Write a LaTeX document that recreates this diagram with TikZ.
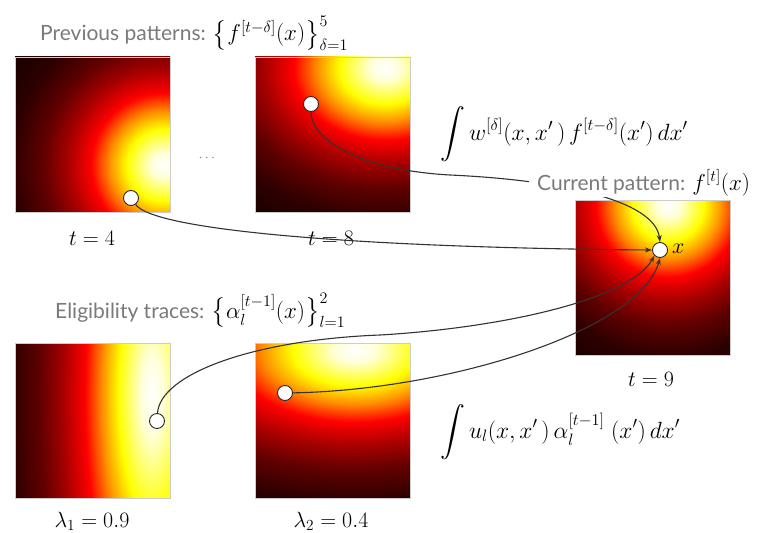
\RequirePackage{fix-cm}
\documentclass[tikz,border=0pt]{standalone}
\usepackage{amsmath}
\usepackage{fontspec}
\newfontfamily\labelfont{Lato}
\usetikzlibrary{arrows.meta}
\definecolor{hotdark}{rgb}{0.1,0,0}
\definecolor{lblgrey}{rgb}{0.48,0.48,0.48}
\pgfdeclareradialshading{hotmap}{\pgfpoint{0bp}{0bp}}{rgb(0bp)=(1,1,1); rgb(2bp)=(1,1,0.85); rgb(6bp)=(1,1,0); rgb(9bp)=(1,0.55,0); rgb(12bp)=(1,0,0); rgb(16bp)=(0.65,0,0); rgb(20bp)=(0.38,0,0); rgb(25bp)=(0.18,0,0); rgb(30bp)=(0.1,0,0); rgb(50bp)=(0.1,0,0)}
\newcommand\heatmap[6]{%
  \begin{scope}
    \clip (#1,#2) rectangle ++(155,155);
    \fill[hotdark] (#1,#2) rectangle ++(155,155);
    \shade[shading=hotmap] ({#3-#5},{#4-#6}) rectangle ({#3+#5},{#4+#6});
  \end{scope}
  \draw[black!20, line width=0.6pt] (#1,#2) rectangle ++(155,155);
}
\tikzset{
  dot/.style={circle, draw=black!85, fill=white, line width=0.9pt, minimum size=15pt, inner sep=0pt},
  link/.style={draw=black!80, line width=1.1pt},
  tip/.style={-{Stealth[length=7pt,width=5pt]}},
  sans/.style={font=\labelfont\fontsize{21}{25}\selectfont},
  mathlbl/.style={font=\fontsize{22}{26}\selectfont, inner sep=0pt},
  kernel/.style={font=\fontsize{23.5}{28}\selectfont, inner sep=0pt},
  cover/.style={fill=white, inner ysep=1pt, inner xsep=8pt},
}
\begin{document}
\begin{tikzpicture}[x=1pt,y=-1pt]
\useasboundingbox (0,0) rectangle (775,532);
\fill[white] (0,0) rectangle (775,532);

% heat maps
\heatmap{15}{57}{163}{165}{150}{150}
\heatmap{255}{57}{385}{68}{190}{150}
\heatmap{575}{200}{668}{205}{150}{150}
\heatmap{15}{343}{152}{395}{140}{500}
\heatmap{255}{343}{355}{350}{260}{150}

% captions under maps
\node[mathlbl, anchor=base] (t4) at (92,245) {$t=4$};
\node[mathlbl, anchor=base] (t8) at (331,245) {$t=8$};
\node[mathlbl, anchor=base] (t9) at (651,386) {$t=9$};
\node[mathlbl, anchor=base] (l1) at (92,527) {$\lambda_1=0.9$};
\node[mathlbl, anchor=base] (l2) at (331,527) {$\lambda_2=0.4$};
\node[font=\fontsize{14}{16}\selectfont, text=black!50] (dots) at (208,158) {$\cdots$};

% points
\node[dot] (c4) at (131,198) {};
\node[dot] (c8) at (311,104) {};
\node[dot] (ca) at (157,421) {};
\node[dot] (cb) at (285,393) {};
\node[dot] (tgt) at (660,250) {};
\node[mathlbl, anchor=west] (xl) at (672,249) {$x$};

% connectors
\draw[link, tip] (c4) .. controls (155,232) and (380,248) .. (tgt.west);
\draw[link, tip] (c8) .. controls (311,140) and (360,170) .. (450,175)
                      .. controls (560,180) and (655,200) .. (tgt.north);
\draw[link, tip] (ca) .. controls (160,375) and (250,340) .. (380,335)
                      .. controls (500,328) and (630,300) .. (tgt.south west);
\draw[link, tip] (cb) .. controls (450,390) and (640,330) .. (tgt.south);

% headings
\node[sans, anchor=base west, inner sep=0pt] (prev) at (40,41)
  {\textcolor{lblgrey}{Previous patterns:} {\fontsize{23}{33}\selectfont$\bigl\{f^{[t-\delta]}(x)\bigr\}_{\delta=1}^{5}$}};
\node[sans, anchor=base west, cover] (cur) at (529,190)
  {\textcolor{lblgrey}{Current pattern:} {\fontsize{23}{27}\selectfont$f^{[t]}(x)$}};
\node[sans, anchor=base west, cover] (elig) at (47,318)
  {\textcolor{lblgrey}{Eligibility traces:} {\fontsize{23}{33}\selectfont$\bigl\{\alpha_l^{[t-1]}(x)\bigr\}_{l=1}^{2}$}};

% kernels
\node[kernel, anchor=base west] (kw) at (440,140)
  {$\displaystyle\int w^{[\delta]}(x,x'\,)\,f^{[t-\delta]}(x')\,dx'$};
\node[kernel, anchor=base west] (ku) at (440,438)
  {$\displaystyle\int u_l(x,x'\,)\,\alpha_l^{[t-1]}\;(x')\,dx'$};
\end{tikzpicture}
\end{document}
